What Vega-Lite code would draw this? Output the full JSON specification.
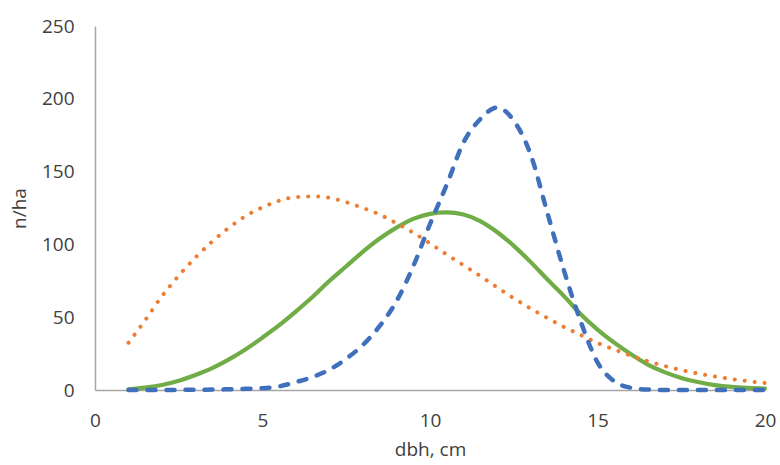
{
  "$schema": "https://vega.github.io/schema/vega-lite/v6.json",
  "width": 670,
  "height": 364,
  "autosize": {"type": "none"},
  "padding": {"left": 95, "top": 26, "right": 15, "bottom": 75},
  "background": "white",
  "config": {
    "view": {"stroke": null},
    "font": "Open Sans",
    "axis": {
      "grid": false,
      "ticks": false,
      "domainColor": "#A6A6A6",
      "domainWidth": 1.5,
      "labelFont": "Open Sans",
      "labelFontSize": 19,
      "labelColor": "#404040",
      "titleFont": "Open Sans",
      "titleFontSize": 19,
      "titleFontWeight": "normal",
      "titleColor": "#404040"
    }
  },
  "datasets": {
    "orange": [
      {"x": 1, "y": 32.5}, {"x": 1.5, "y": 48}, {"x": 2, "y": 64.5}, {"x": 2.5, "y": 78.5},
      {"x": 3, "y": 91}, {"x": 3.5, "y": 102}, {"x": 4, "y": 111.5}, {"x": 4.5, "y": 119.5},
      {"x": 5, "y": 125.5}, {"x": 5.5, "y": 130}, {"x": 6, "y": 132.5}, {"x": 6.5, "y": 133},
      {"x": 7, "y": 132}, {"x": 7.5, "y": 129}, {"x": 8, "y": 125}, {"x": 8.5, "y": 120.5},
      {"x": 9, "y": 114.5}, {"x": 9.5, "y": 108}, {"x": 10, "y": 100.7}, {"x": 10.5, "y": 93},
      {"x": 11, "y": 85.7}, {"x": 11.5, "y": 78.3}, {"x": 12, "y": 70.5}, {"x": 12.5, "y": 63},
      {"x": 13, "y": 56}, {"x": 13.5, "y": 49.5}, {"x": 14, "y": 43.3}, {"x": 14.5, "y": 37.8},
      {"x": 15, "y": 32.3}, {"x": 15.5, "y": 27.8}, {"x": 16, "y": 23.5}, {"x": 16.5, "y": 19.8},
      {"x": 17, "y": 16.5}, {"x": 17.5, "y": 13.7}, {"x": 18, "y": 11.3}, {"x": 18.5, "y": 9.3},
      {"x": 19, "y": 7.5}, {"x": 19.5, "y": 6}, {"x": 20, "y": 4.8}
    ],
    "green": [
      {"x": 1, "y": 0.5}, {"x": 1.5, "y": 1.6}, {"x": 2, "y": 3.4}, {"x": 2.5, "y": 6.3},
      {"x": 3, "y": 10.3}, {"x": 3.5, "y": 15}, {"x": 4, "y": 21}, {"x": 4.5, "y": 28},
      {"x": 5, "y": 36}, {"x": 5.5, "y": 44.5}, {"x": 6, "y": 54}, {"x": 6.5, "y": 64},
      {"x": 7, "y": 75}, {"x": 7.5, "y": 85}, {"x": 8, "y": 95}, {"x": 8.5, "y": 104},
      {"x": 9, "y": 111.5}, {"x": 9.5, "y": 117.5}, {"x": 10, "y": 121}, {"x": 10.5, "y": 122},
      {"x": 11, "y": 120.5}, {"x": 11.5, "y": 116}, {"x": 12, "y": 108.5}, {"x": 12.5, "y": 99},
      {"x": 13, "y": 88}, {"x": 13.5, "y": 76}, {"x": 14, "y": 64.5}, {"x": 14.5, "y": 52},
      {"x": 15, "y": 41.5}, {"x": 15.5, "y": 32.5}, {"x": 16, "y": 24.5}, {"x": 16.5, "y": 17.5},
      {"x": 17, "y": 12.3}, {"x": 17.5, "y": 8.3}, {"x": 18, "y": 5.5}, {"x": 18.5, "y": 3.4},
      {"x": 19, "y": 2.1}, {"x": 19.5, "y": 1.4}, {"x": 20, "y": 1}
    ],
    "blue": [
      {"x": 1, "y": 0}, {"x": 1.5, "y": 0}, {"x": 2, "y": 0}, {"x": 2.5, "y": 0.1},
      {"x": 3, "y": 0.2}, {"x": 3.5, "y": 0.3}, {"x": 4, "y": 0.5}, {"x": 4.5, "y": 0.8},
      {"x": 5, "y": 1.2}, {"x": 5.5, "y": 2.5}, {"x": 6, "y": 5.5}, {"x": 6.5, "y": 9},
      {"x": 7, "y": 14}, {"x": 7.5, "y": 21.5}, {"x": 8, "y": 31}, {"x": 8.5, "y": 44},
      {"x": 9, "y": 61}, {"x": 9.5, "y": 85}, {"x": 10, "y": 114}, {"x": 10.5, "y": 141},
      {"x": 11, "y": 170}, {"x": 11.5, "y": 186}, {"x": 12, "y": 194}, {"x": 12.5, "y": 185},
      {"x": 13, "y": 162}, {"x": 13.5, "y": 122}, {"x": 14, "y": 82}, {"x": 14.5, "y": 47},
      {"x": 15, "y": 19}, {"x": 15.5, "y": 6}, {"x": 16, "y": 1.5}, {"x": 16.5, "y": 0.3},
      {"x": 17, "y": 0}, {"x": 17.5, "y": 0}, {"x": 18, "y": 0}, {"x": 18.5, "y": 0},
      {"x": 19, "y": 0}, {"x": 19.5, "y": 0}, {"x": 20, "y": 0}
    ]
  },
  "encoding": {
    "x": {
      "field": "x", "type": "quantitative",
      "scale": {"domain": [0, 20], "nice": false, "zero": false},
      "axis": {"values": [0, 5, 10, 15, 20], "title": "dbh, cm", "labelPadding": 21, "titlePadding": 10, "labelFlush": false}
    },
    "y": {
      "field": "y", "type": "quantitative",
      "scale": {"domain": [0, 250], "nice": false},
      "axis": {"values": [0, 50, 100, 150, 200, 250], "title": "n/ha", "labelPadding": 21, "titlePadding": 12, "labelFlush": false}
    }
  },
  "layer": [
    {
      "data": {"name": "green"},
      "mark": {"type": "line", "interpolate": "monotone", "color": "#70AD47", "strokeWidth": 4.2, "strokeCap": "round"}
    },
    {
      "data": {"name": "orange"},
      "mark": {"type": "line", "interpolate": "monotone", "color": "#ED7D31", "strokeWidth": 4, "strokeCap": "round", "strokeDash": [0.1, 9.9]}
    },
    {
      "data": {"name": "blue"},
      "mark": {"type": "line", "interpolate": "monotone", "color": "#4070BC", "strokeWidth": 4.5, "strokeCap": "round", "strokeDash": [8, 11]}
    }
  ]
}
